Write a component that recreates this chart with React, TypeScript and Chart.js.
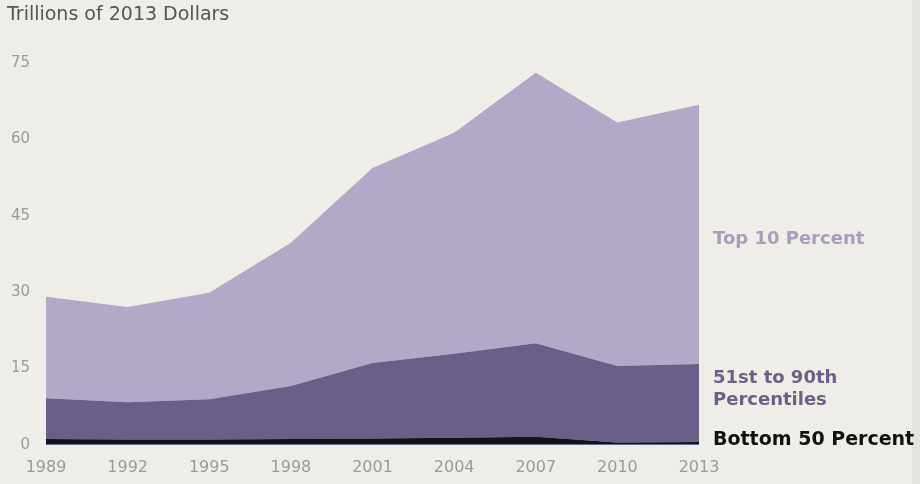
import React, { useEffect, useRef } from "react";
import { Chart, registerables } from "chart.js";

Chart.register(...registerables);

const years = ["1989", "1992", "1995", "1998", "2001", "2004", "2007", "2010", "2013"];
const bottom50 = [1.2, 1.1, 1.1, 1.2, 1.3, 1.4, 1.6, 0.5, 0.6];
const pct51to90 = [8.0, 7.3, 7.9, 10.4, 14.8, 16.5, 18.4, 15.0, 15.3];
const top10 = [19.9, 18.7, 20.9, 28.1, 38.3, 43.4, 53.1, 47.8, 50.9];
const yTicks = [0, 15, 30, 45, 60, 75];
const yTitle = "Trillions of 2013 Dollars";
const seriesLabels = ["Bottom 50 Percent", "51st to 90th Percentiles", "Top 10 Percent"];

const FONT = "'DejaVu Sans', sans-serif";

const decor = {
  id: "decor",
  beforeDraw(chart: any) {
    const { ctx, width, height } = chart;
    ctx.save();
    ctx.fillStyle = "#eeede8";
    ctx.fillRect(0, 0, width, height);
    ctx.fillStyle = "#e4e3de";
    ctx.fillRect(912, 0, width - 912, height);
    ctx.restore();
  },
  afterDraw(chart: any) {
    const { ctx } = chart;
    const area = chart.chartArea;
    ctx.save();
    ctx.fillStyle = "#5a6e9a";
    ctx.fillRect(area.left, area.bottom - 1, area.right - area.left, 1);
    ctx.textBaseline = "middle";
    ctx.textAlign = "left";
    ctx.fillStyle = "#555555";
    ctx.font = `19px ${FONT}`;
    ctx.fillText(yTitle, 7, 15);
    const x0 = area.right + 14;
    ctx.font = `bold 18px ${FONT}`;
    ctx.fillStyle = "#a99dbe";
    ctx.fillText(seriesLabels[2], x0, 239);
    ctx.fillStyle = "#6c5f88";
    ctx.fillText("51st to 90th", x0, 378);
    ctx.fillText("Percentiles", x0, 400);
    ctx.fillStyle = "#111111";
    ctx.font = `bold 19px ${FONT}`;
    ctx.fillText(seriesLabels[0], x0, 440);
    ctx.restore();
  },
};

export default function App() {
  const ref = useRef<HTMLCanvasElement>(null);
  useEffect(() => {
    document.body.style.margin = "0";
    const chart = new Chart(ref.current!, {
      type: "line",
      data: {
        labels: years,
        datasets: [
          {
            label: seriesLabels[0],
            data: bottom50,
            backgroundColor: "#161218",
            borderColor: "#161218",
            borderWidth: 0,
            fill: "origin",
            pointRadius: 0,
          },
          {
            label: seriesLabels[1],
            data: pct51to90,
            backgroundColor: "#6b5e88",
            borderColor: "#6b5e88",
            borderWidth: 0,
            fill: "-1",
            pointRadius: 0,
          },
          {
            label: seriesLabels[2],
            data: top10,
            backgroundColor: "#b3a8c8",
            borderColor: "#b3a8c8",
            borderWidth: 0,
            fill: "-1",
            pointRadius: 0,
          },
        ],
      },
      options: {
        animation: false,
        responsive: false,
        layout: { padding: { top: 63, right: 221, left: 0, bottom: 0 } },
        plugins: { legend: { display: false }, tooltip: { enabled: false } },
        elements: { line: { tension: 0 } },
        scales: {
          x: {
            offset: false,
            grid: { display: false, drawTicks: false },
            border: { display: false },
            ticks: {
              color: "#9a9a9a",
              font: { family: FONT, size: 16 },
              padding: 13,
              maxRotation: 0,
              autoSkip: false,
            },
            afterFit(s: any) {
              s.height = 39;
            },
          },
          y: {
            stacked: true,
            min: 0,
            max: 75,
            grid: { display: false, drawTicks: false },
            border: { display: false },
            afterBuildTicks(s: any) {
              s.ticks = yTicks.map((v) => ({ value: v }));
            },
            ticks: {
              color: "#9a9a9a",
              font: { family: FONT, size: 15 },
              padding: 16,
            },
            afterFit(s: any) {
              s.width = 46;
            },
          },
        },
      },
      plugins: [decor],
    });
    return () => chart.destroy();
  }, []);
  return (
    <div style={{ width: 920, height: 484 }}>
      <canvas ref={ref} width={920} height={484} style={{ display: "block" }} />
    </div>
  );
}
